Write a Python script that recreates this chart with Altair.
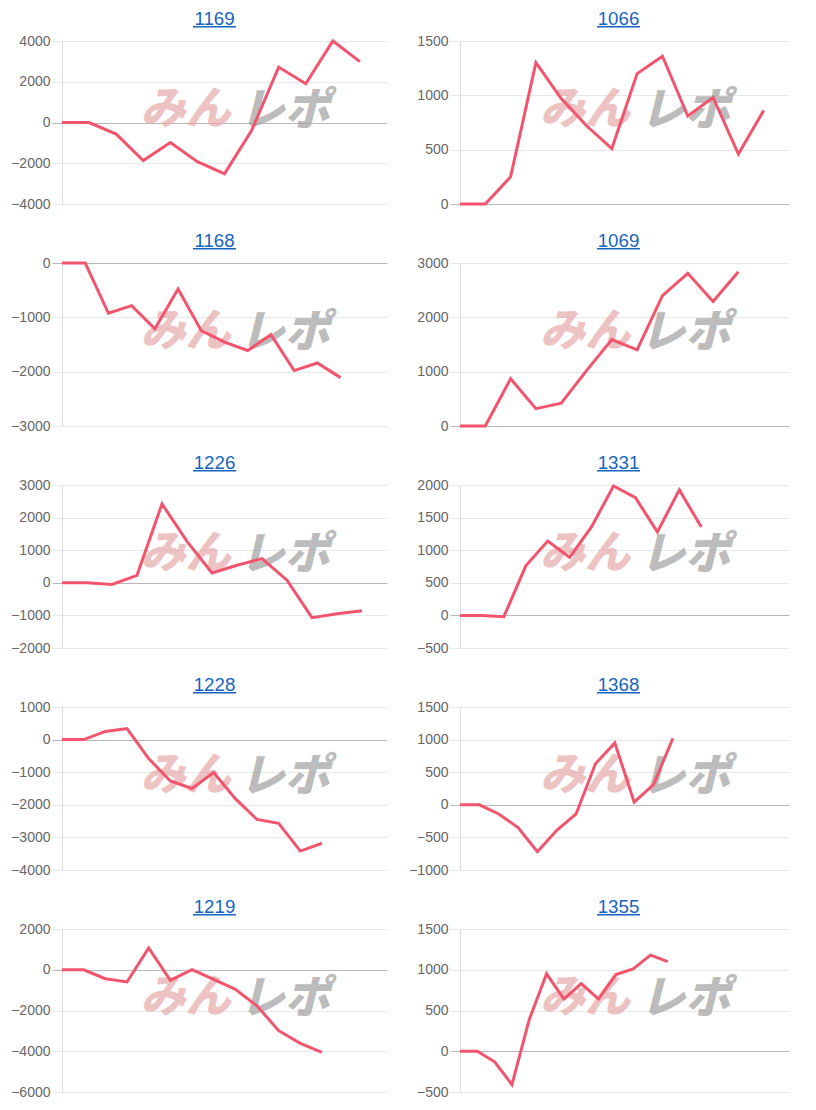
import altair as alt
import pandas as pd

# ---- data ----
titles = ["1169", "1066", "1168", "1069", "1226", "1331", "1228", "1368", "1219", "1355"]
# number of (hidden) x categories of each panel
slot_counts = [13, 14, 15, 14, 14, 16, 16, 18, 16, 20]

s1169 = [0, 0, -570, -1870, -980, -1920, -2520, -400, 2720, 1900, 4000, 2990]
s1066 = [0, 0, 250, 1300, 970, 720, 510, 1200, 1360, 810, 980, 460, 860]
s1168 = [0, 0, -925, -785, -1210, -480, -1245, -1455, -1610, -1320, -1980, -1840, -2110]
s1069 = [0, 0, 870, 320, 420, 1020, 1590, 1400, 2400, 2810, 2290, 2840]
s1226 = [0, 0, -50, 230, 2420, 1270, 300, 540, 740, 80, -1070, -950, -860]
s1331 = [0, 0, -20, 760, 1140, 890, 1360, 1985, 1805, 1280, 1925, 1355]
s1228 = [0, 0, 250, 340, -580, -1270, -1500, -1010, -1810, -2450, -2570, -3420, -3180]
s1368 = [0, 0, -140, -350, -720, -390, -140, 630, 950, 40, 310, 1020]
s1219 = [0, 0, -440, -600, 1070, -520, 0, -470, -960, -1770, -2990, -3610, -4050]
s1355 = [0, 0, -130, -410, 390, 950, 640, 830, 640, 940, 1010, 1180, 1100]
series = [s1169, s1066, s1168, s1069, s1226, s1331, s1228, s1368, s1219, s1355]

ticks1169 = [-4000, -2000, 0, 2000, 4000]
ticks1066 = [0, 500, 1000, 1500]
ticks1168 = [-3000, -2000, -1000, 0]
ticks1069 = [0, 1000, 2000, 3000]
ticks1226 = [-2000, -1000, 0, 1000, 2000, 3000]
ticks1331 = [-500, 0, 500, 1000, 1500, 2000]
ticks1228 = [-4000, -3000, -2000, -1000, 0, 1000]
ticks1368 = [-1000, -500, 0, 500, 1000, 1500]
ticks1219 = [-6000, -4000, -2000, 0, 2000]
ticks1355 = [-500, 0, 500, 1000, 1500]
tick_lists = [ticks1169, ticks1066, ticks1168, ticks1069, ticks1226,
              ticks1331, ticks1228, ticks1368, ticks1219, ticks1355]

# ---- styling ----
LINE = "#f2546e"
LINK = "#1565c0"
H = 163
WIDTHS = [325, 329]          # left / right column plot widths
TITLE_SHIFT = [-10, -6]      # title centre relative to plot centre
FONT = "Liberation Sans"
one = alt.Data(values=[{}])


def panel(k):
    col = k % 2
    W = WIDTHS[col]
    vals = series[k]
    n = slot_counts[k]
    ticks = tick_lists[k]
    df = pd.DataFrame({"i": list(range(len(vals))), "v": vals})

    wm1 = alt.Chart(one).mark_text(
        text="みん", font="Noto Sans CJK JP", fontSize=45, fontWeight=900,
        fontStyle="italic", color="#e6a9a9", opacity=0.7, baseline="middle",
        align="center").encode(x=alt.value(W * 0.38), y=alt.value(69))
    wm2 = alt.Chart(one).mark_text(
        text="レポ", font="Noto Sans CJK JP", fontSize=45, fontWeight=900,
        fontStyle="italic", color="#a0a0a0", opacity=0.7, baseline="middle",
        align="center").encode(x=alt.value(W * 0.685), y=alt.value(70))

    line = alt.Chart(df).mark_line(color=LINE, strokeWidth=3).encode(
        x=alt.X("i:Q", axis=None,
                scale=alt.Scale(domain=[0, n - 1], nice=False, zero=False)),
        y=alt.Y("v:Q", title=None,
                scale=alt.Scale(domain=[min(ticks), max(ticks)], nice=False),
                axis=alt.Axis(values=ticks, format="d", grid=True, tickSize=10,
                              labelPadding=2, labelFontSize=14, labelFont=FONT,
                              labelColor="#666666", domainColor="#dddddd",
                              gridColor={"condition": {"test": "datum.value === 0", "value": "#b8b8b8"}, "value": "#e8e8e8"},
                              tickColor={"condition": {"test": "datum.value === 0", "value": "#b8b8b8"}, "value": "#e8e8e8"},
                              labelFlush=False)),
    )

    cx = W / 2 + TITLE_SHIFT[col]
    title = alt.Chart(one).mark_text(
        text=titles[k], font=FONT, fontSize=18.7, color=LINK,
        align="center", baseline="alphabetic").encode(
        x=alt.value(cx), y=alt.value(-16))
    underline = alt.Chart(one).mark_rule(color=LINK, strokeWidth=1.5).encode(
        x=alt.value(cx - 21.5), x2=alt.value(cx + 21.5), y=alt.value(-14.2))

    return alt.layer(wm1, wm2, line, title, underline).properties(width=W, height=H)


left = alt.vconcat(*[panel(k) for k in range(0, 10, 2)], spacing=21)
right = alt.vconcat(*[panel(k) for k in range(1, 10, 2)], spacing=21)

chart = alt.hconcat(left, right, spacing=21).properties(
    padding={"left": 2, "top": 2, "right": 5, "bottom": 5},
    background="white",
).configure_view(stroke=None, strokeWidth=0)

chart.save("out.html", embed_options={"renderer": "svg", "actions": False})
